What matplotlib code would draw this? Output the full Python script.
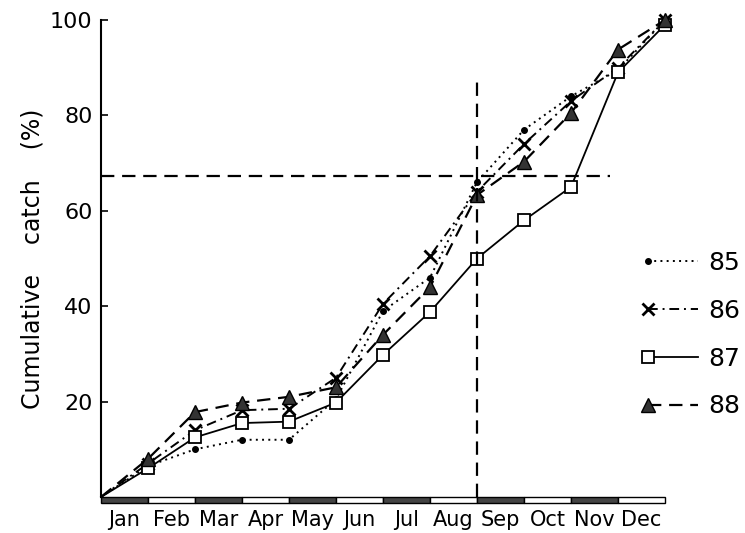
import numpy as np
import matplotlib
matplotlib.use("Agg")
import matplotlib.pyplot as plt
from matplotlib.patches import Rectangle
from matplotlib.legend_handler import HandlerLine2D

# month boundaries: 0 = start of Jan, 12 = end of Dec
positions = list(range(13))
month_labels = ['Jan', 'Feb', 'Mar', 'Apr', 'May', 'Jun',
                'Jul', 'Aug', 'Sep', 'Oct', 'Nov', 'Dec']

catch_85 = [0, 6.5, 10, 12, 12, 20.5, 39, 46, 66, 77, 84, 89.5, 100]
catch_86 = [0, 7, 14, 18.2, 18.5, 25, 40.5, 50.5, 64, 74, 83, 90, 100]
catch_87 = [0, 6, 12.5, 15.5, 15.8, 19.8, 29.8, 38.8, 50, 58, 65, 89, 99]
catch_88 = [0, 8, 17.8, 19.8, 21, 23, 34, 44, 63.3, 70.3, 80.5, 93.8, 100]

ref_level = 67.3   # horizontal reference
ref_month = 8      # vertical reference (end of Aug)


class LeftMarker(HandlerLine2D):
    # legend entry with the marker only at the left end of the line
    def create_artists(self, *args, **kwargs):
        arts = super().create_artists(*args, **kwargs)
        for a in arts:
            a.set_markevery([0])
        return arts


plt.rcParams['font.family'] = ['DejaVu Sans']

fig = plt.figure(figsize=(7.45, 5.33), dpi=100)
ax = fig.add_axes([101 / 745, 36 / 533, 564 / 745, 477 / 533])

mk = list(range(1, 13))
ax.plot(positions, catch_85, color='black', lw=1.4, ls=(0, (1, 2.2)),
        marker='o', ms=4, markevery=mk, clip_on=False, label='85')
ax.plot(positions, catch_86, color='black', lw=1.4, ls=(0, (5, 2.5, 1, 2.5)),
        marker='x', ms=8, mew=2, markevery=mk, clip_on=False, label='86')
ax.plot(positions, catch_87, color='black', lw=1.3, ls='-',
        marker='s', ms=9, mfc='white', mec='black', mew=1.3,
        markevery=mk, clip_on=False, label='87')
ax.plot(positions, catch_88, color='black', lw=1.6, ls=(0, (6, 3.5)),
        marker='^', ms=10, mfc='#333333', mec='black',
        markevery=mk, clip_on=False, label='88')

# reference lines
ax.plot([0, 10.83], [ref_level, ref_level], color='black', lw=1.6,
        ls=(0, (6, 3.5)), clip_on=False)
ax.plot([ref_month, ref_month], [0, 87.5], color='black', lw=1.6,
        ls=(0, (6, 3.5)), clip_on=False)

# month scale bar along the bottom
for i in range(12):
    fc = '#444444' if i % 2 == 0 else 'white'
    ax.add_patch(Rectangle((i, -1.3), 1, 1.3, facecolor=fc,
                           edgecolor='black', lw=1.0, clip_on=False))

ax.set_xlim(0, 12)
ax.set_ylim(0, 100)
ax.set_xticks([i + 0.5 for i in range(12)])
ax.set_xticklabels(month_labels, fontsize=15)
ax.tick_params(axis='x', length=0, pad=9)
ax.set_yticks([20, 40, 60, 80, 100])
ax.tick_params(axis='y', direction='in', length=5, width=1.2,
               labelsize=16, pad=6)

for s in ['top', 'right', 'bottom']:
    ax.spines[s].set_visible(False)
ax.spines['left'].set_linewidth(1.5)
ax.spines['left'].set_bounds(0, 100)

ax.set_ylabel('Cumulative    catch    (%)', fontsize=17, labelpad=4)

handles, labels = ax.get_legend_handles_labels()
fig.legend(handles, labels, loc='upper left',
           bbox_to_anchor=(640 / 745, 1 - 251 / 533),
           frameon=False, fontsize=18, numpoints=2,
           handler_map={h: LeftMarker(numpoints=2) for h in handles},
           handlelength=2.6, handletextpad=0.15,
           labelspacing=0.95, borderpad=0, borderaxespad=0)

fig.savefig('out.png', dpi=100)
